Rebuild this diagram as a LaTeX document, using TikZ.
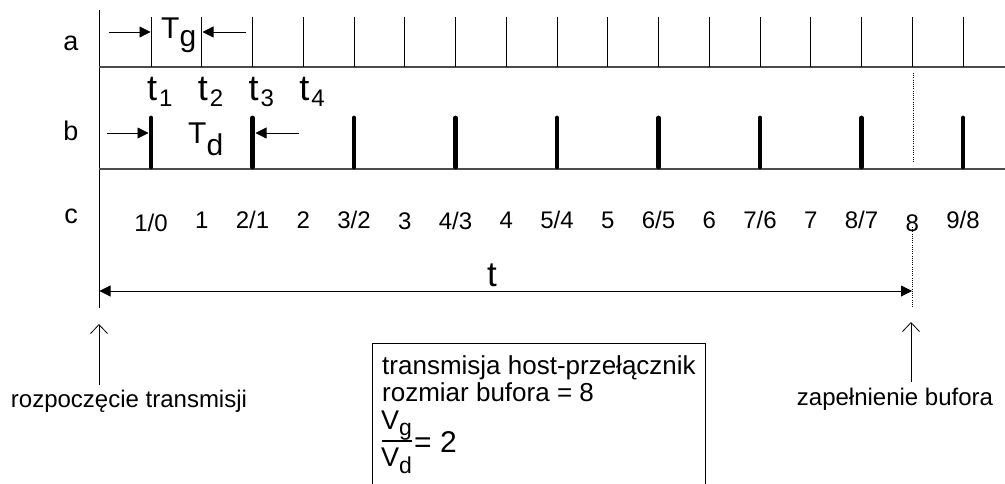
\documentclass[tikz,border=0pt]{standalone}
\usepackage{fontspec}
\setmainfont{Liberation Sans}
\usetikzlibrary{arrows.meta}
\newcommand{\fsz}[1]{\fontsize{#1}{#1}\selectfont}
\begin{document}
\begin{tikzpicture}[x=1pt,y=-1pt,
  hline/.style={line width=1.3pt, black!70},
  tickline/.style={line width=0.9pt},
  barline/.style={line width=4.8pt, line cap=round},
  farrow/.style={line width=0.8pt, -{Triangle[length=11pt,width=11pt]}},
  openup/.style={line width=0.8pt, -{Straight Barb[length=9pt,width=17pt]}},
  dotline/.style={line width=0.8pt, dash pattern=on 1pt off 1.2pt},
  rowlbl/.style={inner sep=0pt, font=\fsz{27}},
  numlbl/.style={inner sep=0pt, font=\fsz{24}},
  txt/.style={inner sep=0pt, font=\fsz{24}, anchor=base},
  boxtxt/.style={inner sep=0pt, font=\fsz{26}, anchor=base west},
]
\useasboundingbox (0,0) rectangle (1005,484);
\clip (0,0) rectangle (1005,484);

% axes
\coordinate (axtop) at (99,10);
\coordinate (axbot) at (99,308);
\draw[tickline] (axtop) -- (axbot);
\coordinate (aL) at (99,67);  \coordinate (aR) at (1005,67);
\coordinate (bL) at (99,169); \coordinate (bR) at (1005,169);
\draw[hline] (aL) -- (aR);
\draw[hline] (bL) -- (bR);

% row labels
\node[rowlbl] (la) at (71,43) {a};
\node[rowlbl] (lb) at (71,131) {b};
\node[rowlbl] (lc) at (71,216) {c};

% ticks row a
\foreach \k in {0,...,16} {
  \coordinate (ta\k) at ({151+\k*50.75},17);
  \coordinate (tb\k) at ({151+\k*50.75},67);
  \draw[tickline] (ta\k) -- (tb\k);
}
% bars row b
\foreach \k in {0,...,8} {
  \coordinate (ba\k) at ({151+\k*101.5},118);
  \coordinate (bb\k) at ({151+\k*101.5},167);
  \draw[barline] (ba\k) -- (bb\k);
}

% dotted lines at buffer full
\coordinate (d1) at (913,73); \coordinate (d2) at (913,162);
\coordinate (d3) at (912,227); \coordinate (d4) at (912,307);
\draw[dotline] (d1) -- (d2);
\draw[dotline] (d3) -- (d4);

% Tg arrows
\coordinate (ga1) at (109,32); \coordinate (ga2) at (150.5,32);
\coordinate (ga3) at (246,32); \coordinate (ga4) at (202.5,32);
\draw[farrow] (ga1) -- (ga2);
\draw[farrow] (ga3) -- (ga4);
\node[inner sep=0pt, anchor=base west, font=\fsz{30}] (Tg) at (161,39) {T\raisebox{-8pt}{\fsz{30}g}};

% Td arrows
\coordinate (da1) at (107,133); \coordinate (da2) at (148.5,133);
\coordinate (da3) at (299,133); \coordinate (da4) at (255.5,133);
\draw[farrow] (da1) -- (da2);
\draw[farrow] (da3) -- (da4);
\node[inner sep=0pt, anchor=base west, font=\fsz{30}] (Td) at (188,144) {T\raisebox{-12pt}{\fsz{30}d}};

% t labels
\foreach \k/\s in {0/1,1/2,2/3,3/4} {
  \node[inner sep=0pt, font=\fsz{36}, anchor=base] (t\s) at ({152+\k*50.75},101) {t};
  \node[inner sep=0pt, font=\fsz{24}, anchor=base west] (ts\s) at ({159+\k*50.75},107) {\s};
}

% row c numbers
\foreach \k/\lab/\dy in {0/1\slash 0/3,1/1/0,2/2\slash 1/0,3/2/0,4/3\slash 2/0,5/3/1,6/4\slash 3/1,7/4/0,8/5\slash 4/0,9/5/0,10/6\slash 5/0,11/6/0,12/7\slash 6/0,13/7/0,14/8\slash 7/0,15/8/3,16/9\slash 8/0} {
  \node[numlbl] (n\k) at ({151+\k*50.75},{220+\dy}) {\lab};
}

% total time arrow
\coordinate (tl) at (99.5,291); \coordinate (tr) at (912,291);
\draw[line width=0.8pt, {Triangle[length=11pt,width=11pt]}-{Triangle[length=11pt,width=11pt]}] (tl) -- (tr);
\node[inner sep=0pt, font=\fsz{35}, anchor=base] (tbig) at (492,286) {t};

% up arrows and labels
\node[txt] (start) at (129,407) {rozpoczęcie transmisji};
\node[txt] (full) at (895,405) {zapełnienie bufora};
\coordinate (u1) at (99,385); \coordinate (u2) at (99,324);
\coordinate (u3) at (911,382); \coordinate (u4) at (911,322);
\draw[openup] (u1) -- (u2);
\draw[openup] (u3) -- (u4);

% info box
\node[draw, line width=0.9pt, minimum width=333pt, minimum height=170pt, anchor=north west, inner sep=0pt] (box) at (372,343) {};
\node[boxtxt] (bl1) at (382,374) {transmisja host-przełącznik};
\node[boxtxt] (bl2) at (382,401) {rozmiar bufora = 8};
\node[inner sep=0pt, font=\fsz{27}, anchor=base west] (num) at (381,429) {V\raisebox{-6pt}{\fsz{23}g}};
\coordinate (fb1) at (382,441); \coordinate (fb2) at (412,441);
\draw[line width=1.1pt] (fb1) -- (fb2);
\node[inner sep=0pt, font=\fsz{27}, anchor=base west] (den) at (381,466) {V\raisebox{-7pt}{\fsz{23}d}};
\node[inner sep=0pt, font=\fsz{30}, anchor=west] (eq) at (414,442) {= 2};
\end{tikzpicture}
\end{document}
